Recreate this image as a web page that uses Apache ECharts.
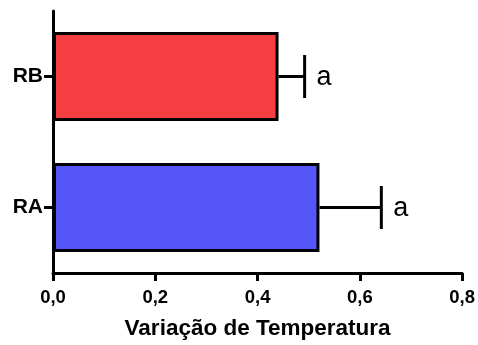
<!DOCTYPE html>
<html>
<head>
<meta charset="utf-8">
<script src="https://cdn.jsdelivr.net/npm/echarts@6/dist/echarts.min.js"></script>
<style>html,body{margin:0;padding:0;background:#fff}#c{width:478px;height:345px}</style>
</head>
<body>
<div id="c"></div>
<script>
var categories = ['RA', 'RB'];
var means = [0.521, 0.441];
var errors = [0.121, 0.051];
var letters = ['a', 'a'];
var barColors = ['#5556F7', '#F53F42'];
var xTicks = [0, 0.2, 0.4, 0.6, 0.8];

var chart = echarts.init(document.getElementById('c'));
var errData = categories.map(function (c, i) { return [i, means[i], errors[i], letters[i]]; });

chart.setOption({
  animation: false,
  grid: { left: 53, right: 15, top: 11, bottom: 65 },
  xAxis: {
    type: 'value', min: 0, max: 0.8, interval: 0.2,
    axisLine: { show: true, lineStyle: { color: '#000', width: 3 } },
    axisTick: { show: true, length: 8, lineStyle: { color: '#000', width: 3 } },
    splitLine: { show: false },
    axisLabel: {
      color: '#000', fontFamily: 'Liberation Sans, Arial', fontWeight: 'bold', fontSize: 18.5, margin: 15,
      formatter: function (v) { return v.toFixed(1).replace('.', ','); }
    },
    name: 'Variação de Temperatura', nameLocation: 'middle', nameGap: 44,
    nameTextStyle: { color: '#000', fontFamily: 'Liberation Sans, Arial', fontWeight: 'bold', fontSize: 22.5 }
  },
  yAxis: {
    type: 'category', data: categories,
    axisLine: { show: true, lineStyle: { color: '#000', width: 3 } },
    axisTick: { show: true, length: 9, alignWithLabel: true, lineStyle: { color: '#000', width: 3 } },
    axisLabel: { color: '#000', fontFamily: 'Liberation Sans, Arial', fontWeight: 'bold', fontSize: 21, margin: 10 }
  },
  series: [
    {
      type: 'bar', barWidth: 89,
      data: means.map(function (v, i) {
        return { value: v, itemStyle: { color: barColors[i], borderColor: '#000', borderWidth: 3 } };
      }),
      z: 2
    },
    {
      type: 'custom', z: 3,
      data: errData,
      encode: { x: [1], y: 0 },
      renderItem: function (params, api) {
        var cat = api.value(0), m = api.value(1), e = api.value(2);
        var p0 = api.coord([m, cat]);
        var p1 = api.coord([m + e, cat]);
        var cap = 21.5;
        return {
          type: 'group',
          children: [
            { type: 'line', shape: { x1: p0[0], y1: p0[1], x2: p1[0], y2: p1[1] }, style: { stroke: '#000', lineWidth: 3 } },
            { type: 'line', shape: { x1: p1[0], y1: p1[1] - cap, x2: p1[0], y2: p1[1] + cap }, style: { stroke: '#000', lineWidth: 3 } },
            { type: 'text', style: { text: letters[params.dataIndex], x: p1[0] + 12, y: p1[1] + 1, verticalAlign: 'middle', align: 'left',
              fill: '#000', font: '27px "Liberation Sans", Arial' } }
          ]
        };
      }
    }
  ]
});
</script>
</body>
</html>
